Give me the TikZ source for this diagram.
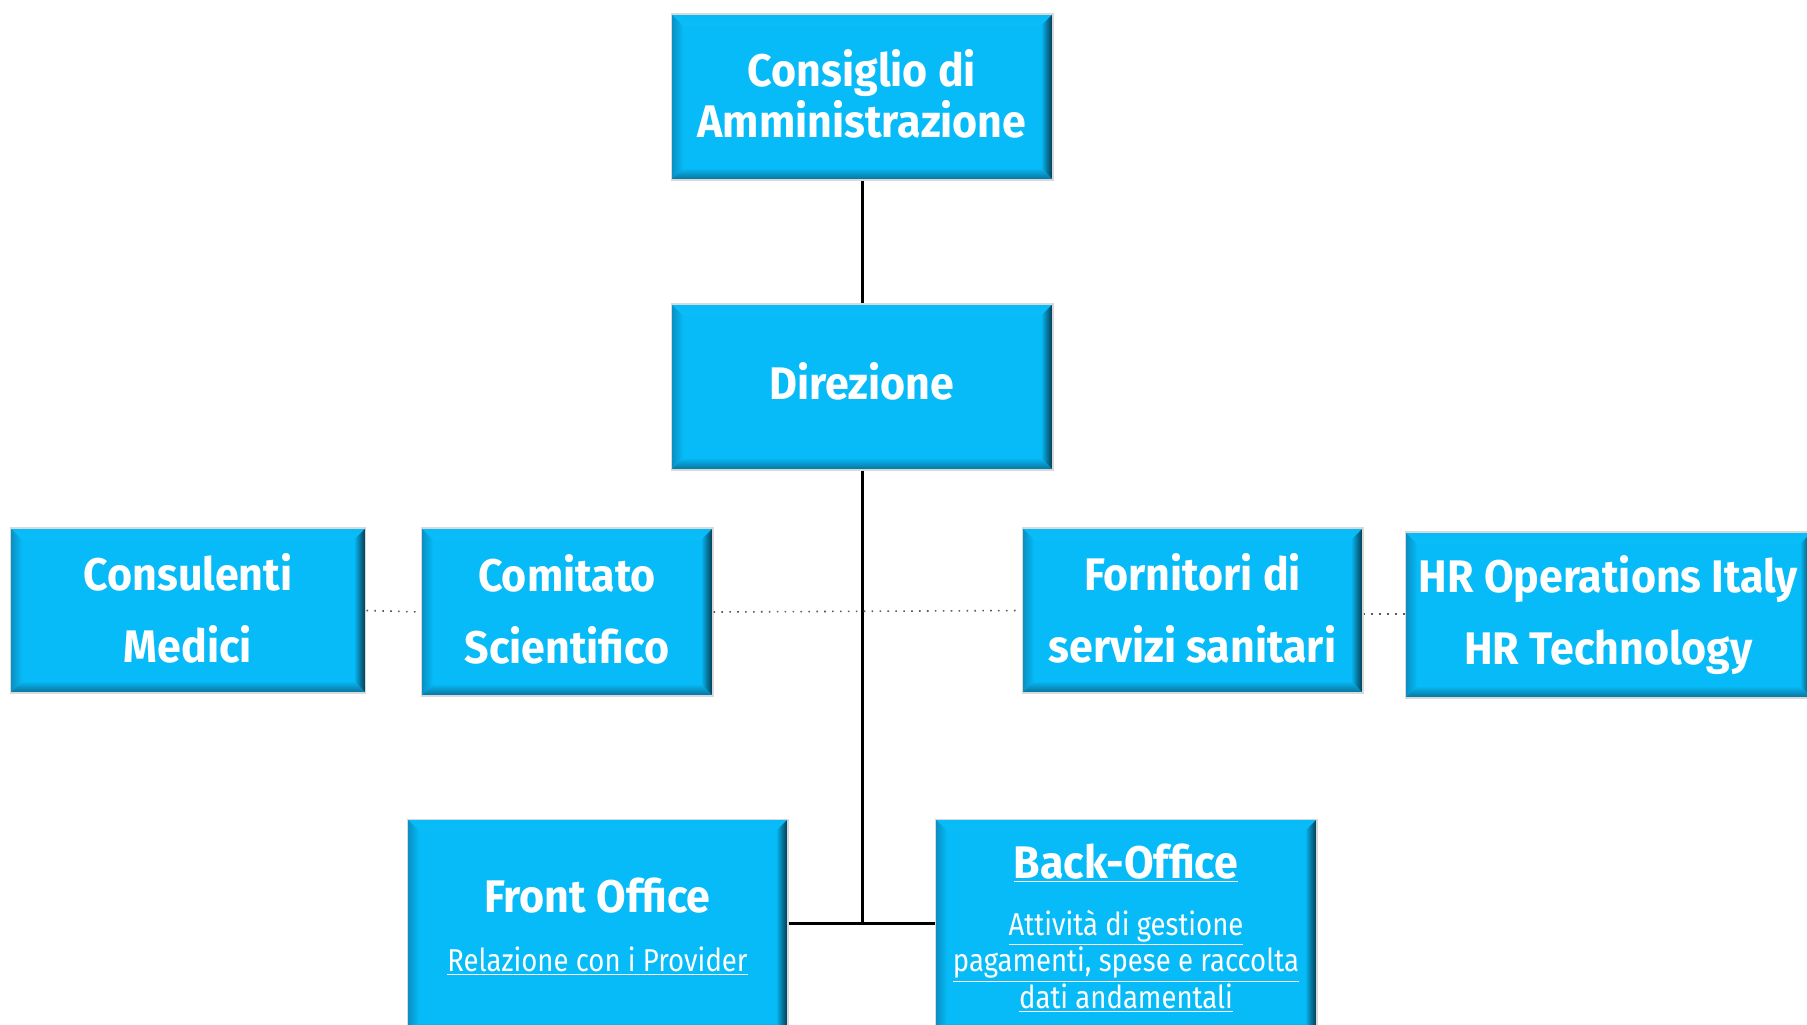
\documentclass[tikz,border=0pt]{standalone}
\usepackage{fontspec}
\setmainfont{Fira Sans}
\definecolor{boxblue}{RGB}{6,187,247}
\definecolor{bevtop}{RGB}{80,212,250}
\definecolor{bevleft}{RGB}{10,140,190}
\definecolor{bevright}{RGB}{6,50,70}
\definecolor{bevbot}{RGB}{10,110,150}
\newcommand{\bev}{0.24cm}
\newcommand{\pb}{path picture bounding box}
\tikzset{
    box/.style={draw=gray!30, line width=0.6pt, fill=boxblue, text=white, inner sep=0pt, align=center,
        font=\addfontfeature{FakeStretch=0.94}\fontsize{26}{41}\selectfont\bfseries,
        path picture={
            \shade[top color=boxblue, bottom color=bevtop] (\pb.north west) -- (\pb.north east) -- ([shift={(-\bev,-\bev)}]\pb.north east) -- ([shift={(\bev,-\bev)}]\pb.north west) -- cycle;
            \shade[left color=bevleft, right color=boxblue] (\pb.north west) -- (\pb.south west) -- ([shift={(\bev,\bev)}]\pb.south west) -- ([shift={(\bev,-\bev)}]\pb.north west) -- cycle;
            \shade[left color=boxblue, right color=bevright] (\pb.north east) -- (\pb.south east) -- ([shift={(-\bev,\bev)}]\pb.south east) -- ([shift={(-\bev,-\bev)}]\pb.north east) -- cycle;
            \shade[top color=boxblue, bottom color=bevbot] (\pb.south west) -- (\pb.south east) -- ([shift={(-\bev,\bev)}]\pb.south east) -- ([shift={(\bev,\bev)}]\pb.south west) -- cycle;
        }},
    boxtitle/.style={text=white, inner sep=0pt, font=\addfontfeature{FakeStretch=0.94}\fontsize{26}{30}\selectfont\bfseries},
    boxsub/.style={text=white, inner sep=0pt, align=center, font=\addfontfeature{FakeStretch=0.87}\fontsize{18}{19.5}\selectfont},
    solid line/.style={line width=1.7pt},
    dot line/.style={line width=0.9pt, black!65, dash pattern=on 0.9pt off 3.6pt}
}
\begin{document}
\begin{tikzpicture}[x=0.02cm, y=-0.02cm]

    \useasboundingbox (0,0) rectangle (1807,1024);

    \node [box, minimum width=7.64cm, minimum height=3.32cm, font=\addfontfeature{FakeStretch=0.94}\fontsize{26}{29}\selectfont\bfseries] (cda) at (862,97) {Consiglio di\\Amministrazione\\[-25pt]\mbox{}};
    \node [box, minimum width=7.64cm, minimum height=3.32cm] (dir) at (862,387) {Direzione\\[-34pt]\mbox{}};

    \node [box, minimum width=7.12cm, minimum height=3.30cm] (cons) at (188,610.5) {Consulenti\\Medici\\[-38pt]\mbox{}};
    \node [box, minimum width=5.84cm, minimum height=3.36cm] (comit) at (567,612) {Comitato\\Scientifico\\[-38pt]\mbox{}};
    \node [box, minimum width=6.82cm, minimum height=3.30cm] (forn) at (1192.5,610.5) {Fornitori di\\servizi sanitari\\[-38pt]\mbox{}};
    \node [box, minimum width=8.14cm, minimum height=3.32cm] (hr) at (1608.5,615) {HR Operations Italy\\HR Technology};

    \node [box, minimum width=7.62cm, minimum height=4.32cm] (front) at (597.5,927) {};
    \node [box, minimum width=7.64cm, minimum height=4.32cm] (back) at (1126,927) {};

    \node [boxtitle] (front-t) at (597.5,896) {Front Office};
    \node [boxsub] (front-s) at (597.5,961) {\underline{Relazione con i Provider}};
    \node [boxtitle] (back-t) at (1126,863) {\underline{Back-Office}};
    \node [boxsub] (back-s) at (1126,961) {\underline{Attività di gestione}\\\underline{pagamenti, spese e raccolta}\\\underline{dati andamentali}};

    \coordinate (j) at (862,923);

    \draw [solid line] (cda.south)--(dir.north);
    \draw [solid line] (dir.south)--(j);
    \draw [solid line] (front.east |- j)--(back.west |- j);

    \draw [dot line] (cons.east)--(comit.west);
    \draw [dot line] (comit.east)--(forn.west);
    \draw [dot line] ([yshift=-0.07cm]forn.east)--([yshift=-0.07cm]forn.east -| hr.west);

\end{tikzpicture}
\end{document}
